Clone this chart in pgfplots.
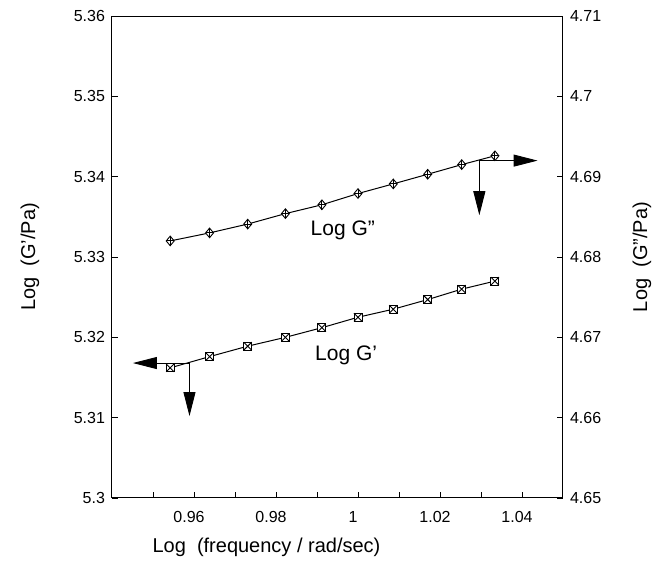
\documentclass[border=0pt]{standalone}
\usepackage{pgfplots}
\pgfplotsset{compat=1.18}
\usepackage{fontspec}
\setmainfont{Liberation Sans}
\usetikzlibrary{arrows.meta}

\pgfdeclareplotmark{sqx}{%
  \pgfpathrectangle{\pgfpoint{-\pgfplotmarksize}{-\pgfplotmarksize}}{\pgfpoint{2\pgfplotmarksize}{2\pgfplotmarksize}}%
  \pgfusepathqfillstroke
  \pgfpathmoveto{\pgfpoint{-\pgfplotmarksize}{-\pgfplotmarksize}}\pgfpathlineto{\pgfpoint{\pgfplotmarksize}{\pgfplotmarksize}}%
  \pgfpathmoveto{\pgfpoint{-\pgfplotmarksize}{\pgfplotmarksize}}\pgfpathlineto{\pgfpoint{\pgfplotmarksize}{-\pgfplotmarksize}}%
  \pgfusepathqstroke}
\pgfdeclareplotmark{dplus}{%
  \pgfpathmoveto{\pgfpoint{0pt}{1.2\pgfplotmarksize}}%
  \pgfpathlineto{\pgfpoint{\pgfplotmarksize}{0pt}}%
  \pgfpathlineto{\pgfpoint{0pt}{-1.2\pgfplotmarksize}}%
  \pgfpathlineto{\pgfpoint{-\pgfplotmarksize}{0pt}}%
  \pgfpathclose
  \pgfusepathqfillstroke
  \pgfpathmoveto{\pgfpoint{0pt}{1.2\pgfplotmarksize}}\pgfpathlineto{\pgfpoint{0pt}{-1.2\pgfplotmarksize}}%
  \pgfpathmoveto{\pgfpoint{-\pgfplotmarksize}{0pt}}\pgfpathlineto{\pgfpoint{\pgfplotmarksize}{0pt}}%
  \pgfusepathqstroke}

\pgfplotstableread{
x G1
0.9542 5.3162
0.9638 5.3176
0.9731 5.3189
0.9823 5.3200
0.9912 5.3212
1.0000 5.3225
1.0086 5.3235
1.0170 5.3247
1.0253 5.3260
1.0334 5.3270
}\Gprime
\pgfplotstableread{
x G2
0.9542 4.6820
0.9638 4.6830
0.9731 4.6841
0.9823 4.6854
0.9912 4.6865
1.0000 4.6879
1.0086 4.6891
1.0170 4.6903
1.0253 4.6915
1.0334 4.6926
}\Gdprime

\pgfplotsset{
  common/.style={
    scale only axis, width=225.5pt, height=241pt,
    xmin=0.94, xmax=1.05,
    tick align=inside, major tick length=3pt, minor tick length=3pt,
    every tick/.style={black, line width=0.4pt},
    axis line style={line width=0.5pt},
    /pgf/number format/assume math mode=true,
    tick label style={font=\fontsize{8}{9.5}\selectfont},
    label style={font=\fontsize{10}{12}\selectfont},
  }
}

\begin{document}
\begin{tikzpicture}
\begin{axis}[common,
  ymin=5.30, ymax=5.36,
  xtick={0.96,0.98,1,1.02,1.04},
  minor xtick={0.95,0.97,0.99,1.01,1.03},
  ytick={5.3,5.31,5.32,5.33,5.34,5.35,5.36},
  xtick pos=bottom, ytick pos=left,
  xticklabel style={/pgf/number format/fixed, /pgf/number format/precision=2, yshift=-3pt, xshift=-2.5pt},
  yticklabel style={/pgf/number format/fixed, /pgf/number format/precision=2},
  xlabel={Log\ \ (frequency / rad/sec)},
  xlabel style={at={([xshift=-35.5pt,yshift=-27.5pt]axis description cs:0.5,0)}, anchor=base},
  ylabel={Log\ \ (G’/Pa)},
  ylabel style={at={([xshift=-41pt]axis description cs:0,0.5)}, anchor=center, rotate=0},
]
\coordinate (SW) at (rel axis cs:0,0);
\addplot[black, line width=0.5pt, mark=sqx, mark size=2pt, mark options={fill=white, line width=0.45pt}] table[x=x, y=G1] {\Gprime};
\draw[line width=0.45pt, -{Triangle[length=12pt,width=6pt]}] (axis cs:0.9589,5.3168) -- (axis cs:0.9451,5.3168);
\draw[line width=0.45pt, -{Triangle[length=12pt,width=6pt]}] (axis cs:0.9589,5.3168) -- (axis cs:0.9589,5.3102);
\node[font=\fontsize{10.5}{12}\selectfont] at (axis cs:0.9971,5.3177) {Log G’};
\node[font=\fontsize{10.5}{12}\selectfont] at (axis cs:0.9963,5.3333) {Log G\symbol{34}};
\end{axis}
\begin{axis}[common,
  ymin=4.65, ymax=4.71,
  axis x line=none, axis y line*=right,
  ytick={4.65,4.66,4.67,4.68,4.69,4.7,4.71},
  yticklabel style={/pgf/number format/fixed, /pgf/number format/precision=2},
  ylabel={Log\ \ (G\symbol{34}/Pa)},
  ylabel style={at={([xshift=39.5pt]axis description cs:1,0.5)}, anchor=center, rotate=0},
]
\addplot[black, line width=0.5pt, mark=dplus, mark size=2pt, mark options={fill=white, line width=0.45pt}] table[x=x, y=G2] {\Gdprime};
\draw[line width=0.45pt, -{Triangle[length=12pt,width=6pt]}] (axis cs:1.0296,4.6920) -- (axis cs:1.0438,4.6920);
\draw[line width=0.45pt, -{Triangle[length=12pt,width=6pt]}] (axis cs:1.0296,4.6920) -- (axis cs:1.0296,4.6852);
\end{axis}
\pgfresetboundingbox
\path ([shift={(-56pt,-35pt)}]SW) rectangle ([shift={(274.5pt,249pt)}]SW);
\end{tikzpicture}
\end{document}
